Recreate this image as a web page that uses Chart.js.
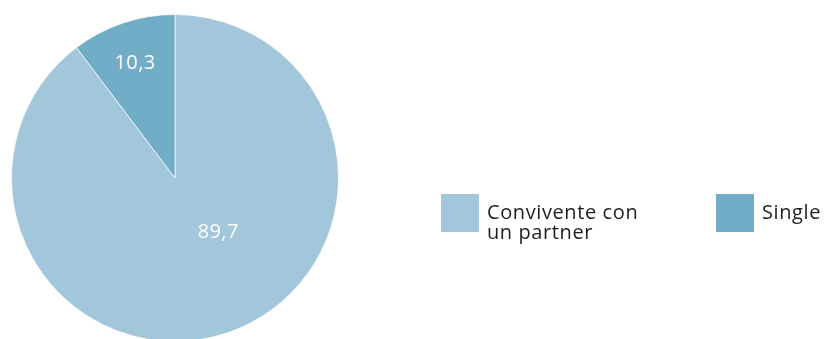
<!DOCTYPE html>
<html>
<head>
<meta charset="utf-8">
<script src="https://cdn.jsdelivr.net/npm/chart.js@4/dist/chart.umd.min.js"></script>
<style>
  html, body { margin: 0; padding: 0; background: #fff; overflow: hidden; }
  #wrap { position: relative; width: 825px; height: 345px; }
</style>
</head>
<body>
<div id="wrap"><canvas id="pieChart"></canvas></div>
<script>
// Household situation shares (%)
const categories = [["Convivente con", "un partner"], ["Single"]];
const shares = [89.7, 10.3];
const sliceColors = ["#a3c7da", "#72adc8"];

const FONT = "'Open Sans', 'Noto Sans', sans-serif";

function formatShare(value) {
    return value.toFixed(1).replace(".", ",");
}

// Value labels inside the slices: [angle in degrees from 3 o'clock, fraction of radius]
const labelAnchors = [[51, 0.42], [-109, 0.75]];

const sliceLabelPlugin = {
    id: "sliceLabels",
    afterDatasetsDraw(chart) {
        const { ctx } = chart;
        const meta = chart.getDatasetMeta(0);
        ctx.save();
        ctx.fillStyle = "#ffffff";
        ctx.font = `20px ${FONT}`;
        ctx.letterSpacing = "0.4px";
        ctx.textAlign = "center";
        ctx.textBaseline = "middle";
        meta.data.forEach((arc, i) => {
            const [deg, frac] = labelAnchors[i];
            const a = deg * Math.PI / 180;
            const r = arc.outerRadius * frac;
            ctx.fillText(formatShare(shares[i]), arc.x + Math.cos(a) * r, arc.y + Math.sin(a) * r + 1);
        });
        ctx.restore();
    }
};

// Legend on the right, boxes with wrapped labels
const sideLegendPlugin = {
    id: "sideLegend",
    afterDraw(chart) {
        const { ctx } = chart;
        const entries = [{ x: 441 }, { x: 716 }];
        const boxTop = 194;
        const boxSize = 38;
        ctx.save();
        ctx.font = `20px ${FONT}`;
        ctx.letterSpacing = "0.6px";
        ctx.textAlign = "left";
        ctx.textBaseline = "alphabetic";
        chart.data.labels.forEach((label, i) => {
            const x = entries[i].x;
            ctx.fillStyle = sliceColors[i];
            ctx.fillRect(x, boxTop, boxSize, boxSize);
            ctx.fillStyle = "#1e1e1e";
            const lines = Array.isArray(label) ? label : [label];
            lines.forEach((line, j) => {
                ctx.fillText(line, x + boxSize + 8, 219 + j * 20);
            });
        });
        ctx.restore();
    }
};

new Chart(document.getElementById("pieChart"), {
    type: "pie",
    data: {
        labels: categories,
        datasets: [{
            data: shares,
            backgroundColor: sliceColors,
            borderColor: "rgba(255,255,255,0.7)",
            borderWidth: 1,
            hoverOffset: 0
        }]
    },
    options: {
        responsive: true,
        maintainAspectRatio: false,
        animation: false,
        events: [],
        layout: {
            padding: { left: 11, top: 14, right: 486, bottom: 3 }
        },
        plugins: {
            legend: { display: false },
            tooltip: { enabled: false }
        }
    },
    plugins: [sliceLabelPlugin, sideLegendPlugin]
});
</script>
</body>
</html>
